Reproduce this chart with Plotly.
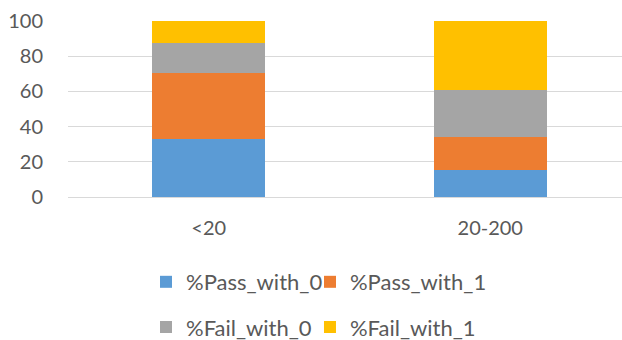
import plotly.graph_objects as go

categories = ["<20", "20-200"]
pass_with_0 = [33, 15.3]
pass_with_1 = [37.3, 18.8]
fail_with_0 = [17.2, 26.7]
fail_with_1 = [12.5, 39.2]

series = [
    ("%Pass_with_0", pass_with_0, "#5B9BD5"),
    ("%Pass_with_1", pass_with_1, "#ED7D31"),
    ("%Fail_with_0", fail_with_0, "#A5A5A5"),
    ("%Fail_with_1", fail_with_1, "#FFC000"),
]
legend_names = ["legend", "legend2", "legend3", "legend4"]
legend_pos = [(0.1408, -0.483), (0.4368, -0.483), (0.1408, -0.74), (0.4368, -0.74)]

font = dict(family="Lato, 'Open Sans', sans-serif", size=20, color="#595959")
legfont = dict(family="Lato, 'Open Sans', sans-serif", size=22, color="#595959")

fig = go.Figure()
for (name, vals, color), leg in zip(series, legend_names):
    fig.add_trace(go.Bar(x=[0, 1], y=vals, name=name, marker=dict(color=color, line=dict(width=0)),
                         width=0.4, legend=leg, showlegend=True))

legends = {}
for leg, (lx, ly) in zip(legend_names, legend_pos):
    legends[leg] = dict(orientation="h", x=lx, y=ly, xanchor="left", yanchor="middle",
                        font=legfont, itemclick=False, bgcolor="rgba(0,0,0,0)", visible=True)

fig.update_layout(
    barmode="stack",
    showlegend=True,
    width=622, height=340,
    margin=dict(l=68, r=0, t=21, b=143, autoexpand=False),
    paper_bgcolor="white", plot_bgcolor="white",
    font=font,
    xaxis=dict(range=[-0.5, 1.468], tickvals=[0, 1], ticktext=categories,
               showgrid=False, zeroline=False, showline=False,
               ticks="outside", ticklen=13, tickcolor="rgba(0,0,0,0)"),
    yaxis=dict(range=[0, 100], tickvals=[0, 20, 40, 60, 80, 100],
               showgrid=True, gridcolor="#D9D9D9", gridwidth=1,
               zeroline=True, zerolinecolor="#D9D9D9", zerolinewidth=1,
               ticks="outside", ticklen=20, tickcolor="rgba(0,0,0,0)"),
    **legends,
)

fig.write_html("out.html")
